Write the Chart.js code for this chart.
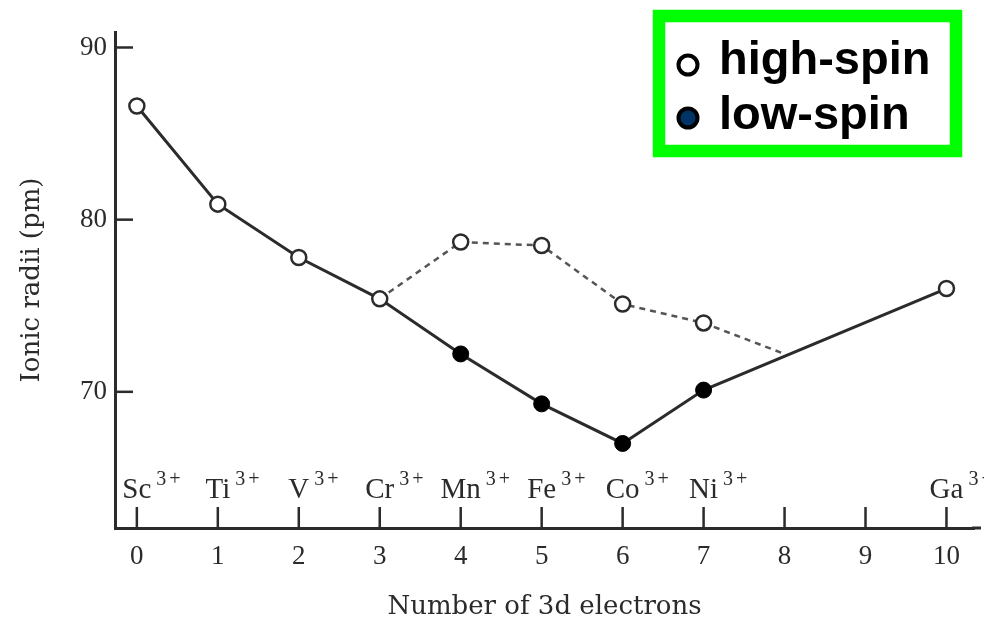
<!DOCTYPE html>
<html>
<head>
<meta charset="utf-8">
<script src="https://cdn.jsdelivr.net/npm/chart.js@4.4.1/dist/chart.umd.min.js"></script>
<style>
  html, body { margin: 0; padding: 0; background: #fff; }
  #wrap { width: 984px; height: 623px; position: relative; }
</style>
</head>
<body>
<div id="wrap"><canvas id="chart"></canvas></div>
<script>
const electrons = [0, 1, 2, 3, 4, 5, 6, 7, 8, 9, 10];
const ions = ["Sc", "Ti", "V", "Cr", "Mn", "Fe", "Co", "Ni", "", "", "Ga"];
const highSpin = [86.6, 80.9, 77.8, 75.4, 78.7, 78.5, 75.1, 74.0, null, null, 76.0];
const lowSpin = [null, null, null, null, 72.2, 69.3, 67.0, 70.1, null, null, null];
const solidPath = [86.6, 80.9, 77.8, 75.4, 72.2, 69.3, 67.0, 70.1, null, null, 76.0];
const dashedPath = [null, null, null, 75.4, 78.7, 78.5, 75.1, 74.0, 72.2, null, null];
const yTicks = [70, 80, 90];
const legendLabels = ["high-spin", "low-spin"];

const ink = "#2b2b2b";
const serif = "'Liberation Serif', 'DejaVu Serif', serif";
const wideSerif = "'DejaVu Serif', 'Liberation Serif', serif";

function toPoints(arr) {
  return electrons
    .map((x, i) => ({ x: x, y: arr[i] }))
    .filter((p) => p.y !== null);
}

const decor = {
  id: "decor",
  afterDraw(chart) {
    const ctx = chart.ctx;
    const xs = chart.scales.x;
    const ys = chart.scales.y;
    const area = chart.chartArea;
    ctx.save();

    // axis runs on to the right edge
    ctx.strokeStyle = ink;
    ctx.lineWidth = 3;
    ctx.beginPath();
    ctx.moveTo(area.right - 2, area.bottom);
    ctx.lineTo(981, area.bottom);
    ctx.stroke();

    // inward tick marks
    ctx.lineWidth = 2.5;
    electrons.forEach((v) => {
      const px = xs.getPixelForValue(v);
      ctx.beginPath();
      ctx.moveTo(px, area.bottom);
      ctx.lineTo(px, area.bottom - 21);
      ctx.stroke();
    });
    yTicks.forEach((v) => {
      const py = ys.getPixelForValue(v);
      ctx.beginPath();
      ctx.moveTo(area.left, py);
      ctx.lineTo(area.left + 18, py);
      ctx.stroke();
    });

    // ion labels with 3+ superscript
    ctx.fillStyle = ink;
    ctx.textBaseline = "alphabetic";
    ctx.textAlign = "left";
    ions.forEach((name, i) => {
      if (!name) return;
      const px = xs.getPixelForValue(electrons[i]);
      ctx.font = "29px " + serif;
      const w = ctx.measureText(name).width;
      ctx.fillText(name, px - w / 2, 498);
      ctx.font = "20px " + serif;
      const sx = px + w / 2 + 5;
      ctx.fillText("3", sx, 485);
      ctx.fillText("+", sx + ctx.measureText("3").width + 3, 485);
    });

    // legend box
    ctx.strokeStyle = "#00ff00";
    ctx.lineWidth = 12.5;
    ctx.strokeRect(659, 16, 297, 135);
    ctx.lineWidth = 4;
    ctx.strokeStyle = "#000";
    ctx.beginPath();
    ctx.arc(688, 65, 9.5, 0, Math.PI * 2);
    ctx.fillStyle = "#fff";
    ctx.fill();
    ctx.stroke();
    ctx.beginPath();
    ctx.arc(688, 118, 9.5, 0, Math.PI * 2);
    ctx.fillStyle = "#003366";
    ctx.fill();
    ctx.stroke();
    ctx.fillStyle = "#000";
    ctx.font = "bold 47px 'Liberation Sans', Arial, sans-serif";
    ctx.fillText(legendLabels[0], 719, 74);
    ctx.fillText(legendLabels[1], 719, 129);

    ctx.restore();
  },
};

new Chart(document.getElementById("chart"), {
  type: "scatter",
  data: {
    datasets: [
      {
        label: "low-spin",
        data: toPoints(lowSpin),
        pointRadius: 8,
        pointBackgroundColor: "#000",
        pointBorderColor: "#000",
        pointBorderWidth: 1,
        showLine: false,
      },
      {
        label: "high-spin",
        data: toPoints(highSpin),
        pointRadius: 7.5,
        pointBackgroundColor: "#fff",
        pointBorderColor: ink,
        pointBorderWidth: 2.5,
        showLine: false,
      },
      {
        label: "trend",
        data: toPoints(solidPath),
        showLine: true,
        borderColor: ink,
        borderWidth: 3,
        pointRadius: 0,
      },
      {
        label: "high-spin trend",
        data: toPoints(dashedPath),
        showLine: true,
        borderColor: "#555",
        borderWidth: 2.5,
        borderDash: [6, 5],
        pointRadius: 0,
      },
    ],
  },
  options: {
    responsive: true,
    maintainAspectRatio: false,
    animation: false,
    layout: {
      padding: { top: 32, right: 0, left: 0, bottom: 0 },
    },
    scales: {
      x: {
        type: "linear",
        min: -0.27,
        max: 10.34,
        afterFit: (scale) => {
          scale.height = 95;
        },
        afterBuildTicks: (scale) => {
          scale.ticks = electrons.map((v) => ({ value: v }));
        },
        grid: { display: false, drawTicks: false },
        border: { display: true, color: ink, width: 3 },
        ticks: {
          color: ink,
          padding: 13,
          font: { family: serif, size: 27 },
        },
        title: {
          display: true,
          text: "Number of 3d electrons",
          color: ink,
          padding: { top: 0, bottom: 0 },
          font: { family: wideSerif, size: 26 },
        },
      },
      y: {
        min: 62.09,
        max: 90.9,
        afterFit: (scale) => {
          scale.width = 115;
        },
        afterBuildTicks: (scale) => {
          scale.ticks = yTicks.map((v) => ({ value: v }));
        },
        grid: { display: false, drawTicks: false },
        border: { display: true, color: ink, width: 3 },
        ticks: {
          color: ink,
          padding: 8,
          font: { family: serif, size: 27 },
        },
        title: {
          display: true,
          text: "Ionic radii (pm)",
          color: ink,
          padding: { top: 17, bottom: 0 },
          font: { family: wideSerif, size: 26 },
        },
      },
    },
    plugins: {
      legend: { display: false },
      tooltip: { enabled: false },
    },
  },
  plugins: [decor],
});
</script>
</body>
</html>
